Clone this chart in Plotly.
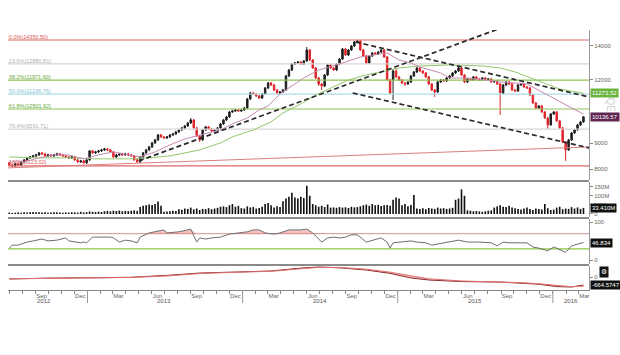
import numpy as np
import pandas as pd
import plotly.graph_objects as go

FONT = "Liberation Sans, Arial, sans-serif"

# ---------------- weekly OHLC (QE index) ----------------
week_start = "2012-07-01"
open_px = [
    8231, 8156, 8120, 8193, 8156, 8268, 8343, 8419, 8457, 8495,
    8533, 8611, 8572, 8495, 8533, 8495, 8533, 8572, 8533, 8495,
    8457, 8419, 8457, 8343, 8268, 8305, 8231, 8343, 8689, 8611,
    8650, 8689, 8728, 8768, 8728, 8650, 8457, 8533, 8572, 8533,
    8572, 8533, 8495, 8343, 8268, 8457, 8611, 8728, 8847, 9009,
    9132, 9340, 9256, 9215, 9256, 9340, 9383, 9468, 9554, 9641,
    9729, 9861, 9996, 9641, 9298, 9132, 9554, 9685, 9598, 9511,
    9554, 9641, 9817, 9996, 10132, 10363, 10410, 10458, 10410, 10458,
    10553, 10991, 11293, 11242, 11141, 11040, 11242, 11551, 11815, 11709,
    11447, 11293, 11344, 11447, 12195, 12530, 12875, 12933, 12992, 12875,
    13051, 13716, 13110, 12644, 12085, 11762, 11656, 12250, 12817, 12644,
    12530, 12875, 13169, 13778, 13409, 13716, 13966, 14221, 14286, 13716,
    13349, 12933, 13349, 13531, 13470, 13592, 13716, 13289, 11977, 11977,
    12474, 12140, 11977, 11815, 11762, 11869, 12195, 12418, 12644, 12474,
    12362, 12140, 11762, 11447, 11344, 11869, 11977, 11923, 12085, 12195,
    12362, 12474, 12644, 12250, 11869, 12031, 11977, 12140, 12031, 11977,
    12085, 11977, 12031, 11869, 11923, 11762, 11293, 11709, 11869, 11762,
    11447, 11395, 11709, 11762, 11603, 11551, 11191, 10794, 10553, 10648,
    10363, 10086, 9773, 10270, 10363, 9951, 9641, 9049, 8728, 9132,
    9425, 9554, 9773, 9906,
]
high_px = [
    8268, 8193, 8231, 8231, 8305, 8381, 8457, 8495, 8533, 8572,
    8650, 8650, 8611, 8572, 8572, 8572, 8611, 8611, 8572, 8533,
    8495, 8495, 8495, 8381, 8343, 8343, 8381, 8728, 8728, 8689,
    8728, 8768, 8807, 8807, 8768, 8689, 8572, 8611, 8611, 8611,
    8611, 8572, 8533, 8381, 8495, 8650, 8768, 8887, 9049, 9173,
    9383, 9383, 9298, 9298, 9383, 9425, 9511, 9598, 9685, 9773,
    9906, 10086, 10041, 9685, 9340, 9598, 9729, 9729, 9641, 9598,
    9685, 9861, 10041, 10178, 10410, 10458, 10505, 10505, 10505, 10600,
    11040, 11344, 11344, 11293, 11191, 11293, 11603, 11869, 11869, 11762,
    11499, 11395, 11499, 12250, 12587, 12933, 12992, 13051, 13051, 13110,
    13903, 13778, 13169, 12702, 12140, 11815, 12306, 12875, 12875, 12702,
    12933, 13229, 13840, 13840, 13778, 14029, 14286, 14350, 14350, 13778,
    13409, 13409, 13592, 13592, 13654, 13778, 13778, 13349, 12031, 12587,
    12644, 12195, 12031, 11869, 11923, 12250, 12474, 12702, 12702, 12530,
    12418, 12195, 11815, 11499, 11923, 12031, 12031, 12140, 12250, 12418,
    12530, 12759, 12702, 12306, 12085, 12085, 12195, 12195, 12085, 12140,
    12140, 12085, 12085, 11977, 11977, 11815, 11762, 11923, 11923, 11815,
    11499, 11762, 11815, 11815, 11656, 11603, 11242, 10843, 10697, 10697,
    10410, 10132, 10317, 10410, 10410, 9996, 9685, 9090, 9173, 9468,
    9598, 9817, 9951, 10178,
]
low_px = [
    8120, 8083, 8083, 8120, 8120, 8231, 8305, 8381, 8419, 8457,
    8495, 8533, 8457, 8457, 8457, 8457, 8495, 8495, 8457, 8419,
    8381, 8381, 8305, 8231, 8231, 8193, 8193, 8305, 8572, 8572,
    8611, 8650, 8689, 8689, 8611, 8419, 8419, 8495, 8495, 8495,
    8495, 8457, 8305, 8231, 8231, 8419, 8572, 8689, 8807, 8968,
    9090, 9215, 9173, 9173, 9215, 9298, 9340, 9425, 9511, 9598,
    9685, 9817, 9598, 9256, 9049, 9090, 9511, 9554, 9468, 9468,
    9511, 9598, 9773, 9951, 10086, 10317, 10363, 10363, 10363, 10410,
    10505, 10941, 11191, 11090, 10991, 10991, 11191, 11499, 11656, 11395,
    11242, 11242, 11293, 11395, 12140, 12474, 12817, 12875, 12817, 12817,
    12992, 13051, 12587, 12031, 11656, 11447, 11603, 12195, 12587, 12474,
    12474, 12817, 13110, 13349, 13349, 13654, 13903, 14157, 13654, 13289,
    12875, 12875, 13289, 13409, 13409, 13531, 13229, 11923, 11242, 10941,
    12085, 11923, 11762, 11656, 11709, 11815, 12140, 12362, 12418, 12306,
    12085, 11709, 11395, 11090, 11293, 11815, 11869, 11869, 12031, 12140,
    12306, 12418, 12195, 11815, 11815, 11923, 11923, 11977, 11923, 11923,
    11923, 11923, 11815, 11815, 11709, 10224, 11242, 11656, 11709, 11395,
    11344, 11344, 11656, 11551, 11499, 11141, 10745, 10505, 10505, 10317,
    10041, 9598, 9729, 10224, 9906, 9598, 9009, 8305, 8689, 9090,
    9383, 9511, 9729, 9861,
]
close_px = [
    8156, 8120, 8193, 8156, 8268, 8343, 8419, 8457, 8495, 8533,
    8611, 8572, 8495, 8533, 8495, 8533, 8572, 8533, 8495, 8457,
    8419, 8457, 8343, 8268, 8305, 8231, 8343, 8689, 8611, 8650,
    8689, 8728, 8768, 8728, 8650, 8457, 8533, 8572, 8533, 8572,
    8533, 8495, 8343, 8268, 8457, 8611, 8728, 8847, 9009, 9132,
    9340, 9256, 9215, 9256, 9340, 9383, 9468, 9554, 9641, 9729,
    9861, 9996, 9641, 9298, 9132, 9554, 9685, 9598, 9511, 9554,
    9641, 9817, 9996, 10132, 10363, 10410, 10458, 10410, 10458, 10553,
    10991, 11293, 11242, 11141, 11040, 11242, 11551, 11815, 11709, 11447,
    11293, 11344, 11447, 12195, 12530, 12875, 12933, 12992, 12875, 13051,
    13716, 13110, 12644, 12085, 11762, 11656, 12250, 12817, 12644, 12530,
    12875, 13169, 13778, 13409, 13716, 13966, 14221, 14286, 13716, 13349,
    12933, 13349, 13531, 13470, 13592, 13716, 13289, 11977, 11293, 12474,
    12140, 11977, 11815, 11762, 11869, 12195, 12418, 12644, 12474, 12362,
    12140, 11762, 11447, 11344, 11869, 11977, 11923, 12085, 12195, 12362,
    12474, 12644, 12250, 11869, 12031, 11977, 12140, 12031, 11977, 12085,
    11977, 12031, 11869, 11923, 11762, 11293, 11709, 11869, 11762, 11447,
    11395, 11709, 11762, 11603, 11551, 11191, 10794, 10553, 10648, 10363,
    10086, 9773, 10270, 10363, 9951, 9641, 9049, 8728, 9132, 9425,
    9554, 9773, 9906, 10136.57,
]
volume_m = [
    8, 6, 7, 9, 7, 10, 8, 9, 11, 9,
    10, 8, 9, 7, 8, 10, 9, 8, 7, 9,
    8, 10, 9, 8, 12, 9, 10, 14, 12, 11,
    13, 11, 15, 17, 14, 18, 16, 19, 15, 17,
    16, 18, 20, 17, 38, 45, 48, 52, 50, 55,
    68, 45, 12, 14, 15, 18, 16, 26, 24, 30,
    28, 35, 25, 30, 22, 28, 27, 32, 26, 30,
    34, 40, 42, 38, 48, 55, 40, 45, 32, 30,
    42, 36, 38, 30, 33, 40, 55, 60, 48, 35,
    42, 38, 70, 85, 95, 117, 90, 85, 95, 88,
    155, 100, 55, 48, 40, 45, 38, 52, 35, 36,
    34, 38, 35, 37, 33, 40, 36, 38, 42, 48,
    52, 45, 55, 48, 50, 44, 48, 50, 45, 78,
    90, 85, 48, 55, 42, 50, 105, 30, 28, 32,
    26, 33, 30, 28, 35, 30, 32, 28, 30, 34,
    78, 85, 135, 100, 20, 18, 15, 16, 14, 12,
    15, 18, 20, 35, 42, 48, 40, 38, 45, 35,
    32, 28, 25, 30, 35, 27, 22, 30, 28, 25,
    55, 32, 22, 24, 35, 40, 26, 30, 28, 38,
    30, 36, 28, 33.41,
]

# ---------------- moving averages (read at sampled weeks) ----------------
ma_short_idx = [0, 5, 10, 15, 20, 25, 30, 35, 40, 44, 49, 54, 59, 64, 71, 75, 80, 84, 87, 91,
                99, 104, 111, 118, 122, 127, 131, 135, 138, 145, 148, 154, 160, 165, 170, 174,
                179, 185, 189, 193]
ma_short = [8268, 8268, 8419, 8533, 8533, 8381, 8533, 8650, 8533, 8457, 8650, 8928, 9173, 9340,
            9554, 9817, 10086, 10458, 10648, 11242, 12085, 12530, 12875, 13289, 13409, 13531,
            13110, 12933, 12702, 12362, 12085, 12085, 11977, 11869, 11815, 11762, 11344,
            10843, 10553, 10270]
ma_long_idx = [0, 10, 20, 30, 40, 47, 54, 64, 71, 75, 82, 88, 92, 98, 103, 109, 114, 120, 126,
               131, 138, 148, 159, 165, 170, 176, 182, 185, 193]
ma_long = [8457, 8419, 8419, 8381, 8381, 8419, 8495, 8728, 9009, 9256, 9554, 9906, 10317, 10745,
           11191, 11603, 11977, 12250, 12474, 12644, 12759, 12817, 12759, 12644, 12418, 12031,
           11656, 11499, 11273.52]

# ---------------- Fibonacci retracement ----------------
fib_pct = ["0.0%", "23.6%", "38.2%", "50.0%", "61.8%", "76.4%", "100%"]
fib_val = [14350.50, 12880.81, 11971.60, 11236.76, 10501.92, 9591.71, 8123.02]
fib_line_color = ["#e06666", "#d6d6d6", "#8fc45a", "#a9dbe6", "#8fc45a", "#d6d6d6", "#e06666"]
fib_text_color = ["#d9534f", "#b0b0b0", "#6aa83a", "#7fc3d3", "#6aa83a", "#b0b0b0", "#d9534f"]

# ---------------- trend lines ----------------
up_trend_dates = ["2013-05-02", "2015-09-14"]
up_trend_vals = [8305, 15289]
chan_upper_dates = ["2014-09-24", "2016-03-26"]
chan_upper_vals = [14221, 11090]
chan_lower_dates = ["2014-09-17", "2016-03-26"]
chan_lower_vals = [11293, 8807]
long_trend_dates = ["2012-06-28", "2016-03-26"]
long_trend_vals = [8047, 8847]

# ---------------- RSI ----------------
rsi_idx = [0, 1, 3, 6, 8, 11, 13, 16, 19, 20, 24, 25, 26, 28, 30, 34, 35, 37, 39, 41, 43, 44, 47,
           49, 52, 53, 57, 61, 63, 64, 66, 68, 71, 74, 77, 80, 82, 84, 86, 89, 91, 94, 98, 100,
           102, 105, 107, 109, 111, 113, 115, 117, 120, 122, 125, 127, 128, 129, 131, 135, 137,
           140, 142, 146, 149, 151, 154, 156, 158, 162, 164, 166, 168, 172, 174, 176, 178, 181,
           183, 184, 187, 189, 191, 193]
rsi_val = [32, 40, 40, 48, 51, 56, 51, 53, 59, 51, 46, 48, 46, 61, 61, 61, 59, 48, 53, 51, 46, 61,
           72, 75, 80, 72, 75, 82, 48, 59, 56, 59, 61, 69, 72, 75, 80, 80, 72, 69, 72, 80, 80, 82,
           72, 48, 59, 61, 59, 61, 67, 67, 48, 53, 59, 48, 32, 46, 48, 51, 48, 46, 40, 46, 51, 53,
           48, 48, 48, 46, 38, 48, 46, 46, 46, 35, 32, 25, 35, 32, 21, 38, 43, 46.834]

# ---------------- MACD ----------------
macd_idx = [0, 13, 30, 41, 54, 64, 77, 88, 98, 104, 111, 120, 128, 135, 141, 152, 165, 172, 178,
            184, 189, 193]
macd_val = [-170, -90, -60, -20, 150, 330, 420, 500, 740, 830, 760, 580, 300, -80, -250, -380,
            -420, -500, -600, -800, -830, -664.5747]
signal_val = [-150, -110, -70, -40, 100, 290, 400, 470, 680, 800, 790, 650, 400, 80, -150, -330,
              -400, -470, -560, -720, -810, -760]

# ---------------- axis labels ----------------
month_tick_dates = ["2012-09-15", "2012-12-15", "2013-03-15", "2013-06-15", "2013-09-15",
                    "2013-12-15", "2014-03-15", "2014-06-15", "2014-09-15", "2014-12-15",
                    "2015-03-15", "2015-06-15", "2015-09-15", "2015-12-15", "2016-03-15"]
month_tick_text = ["Sep", "Dec", "Mar", "Jun", "Sep", "Dec", "Mar", "Jun", "Sep", "Dec",
                   "Mar", "Jun", "Sep", "Dec", "Mar"]
year_labels = ["2012", "2013", "2014", "2015", "2016"]
year_label_dates = ["2012-09-20", "2013-07-01", "2014-07-01", "2015-07-01", "2016-02-12"]
year_bounds = ["2013-01-01", "2014-01-01", "2015-01-01", "2016-01-01"]

X_RANGE = ["2012-06-28", "2016-03-26"]

dates = pd.date_range(week_start, periods=len(close_px), freq="7D")
month_starts = pd.date_range("2012-07-01", "2016-03-01", freq="MS")

fig = go.Figure()

# Fibonacci lines and labels
for v, c in zip(fib_val, fib_line_color):
    fig.add_trace(go.Scatter(x=X_RANGE, y=[v, v], mode="lines", line=dict(color=c, width=1.2),
                             xaxis="x", yaxis="y", hoverinfo="skip"))
fig.add_trace(go.Scatter(
    x=["2012-06-30"] * len(fib_val), y=fib_val, mode="text",
    text=[f"{p}({v:.2f})" for p, v in zip(fib_pct, fib_val)],
    textposition="top right", textfont=dict(size=5.5, color=fib_text_color, family=FONT),
    xaxis="x", yaxis="y", hoverinfo="skip"))

# long trend line
fig.add_trace(go.Scatter(x=long_trend_dates, y=long_trend_vals, mode="lines",
                         line=dict(color="#d98080", width=1), xaxis="x", yaxis="y"))
# moving averages
fig.add_trace(go.Scatter(x=dates[ma_long_idx], y=ma_long, mode="lines",
                         line=dict(color="#93c96b", width=1), xaxis="x", yaxis="y"))
fig.add_trace(go.Scatter(x=dates[ma_short_idx], y=ma_short, mode="lines",
                         line=dict(color="#c48ab3", width=1), xaxis="x", yaxis="y"))

# candles
fig.add_trace(go.Candlestick(
    x=dates, open=open_px, high=high_px, low=low_px, close=close_px,
    increasing=dict(line=dict(color="#1e1e1e", width=1), fillcolor="#1e1e1e"),
    decreasing=dict(line=dict(color="#e0262b", width=1), fillcolor="#e0262b"),
    whiskerwidth=0, xaxis="x", yaxis="y"))

# dashed trend lines
for dx, dy in [(up_trend_dates, up_trend_vals), (chan_upper_dates, chan_upper_vals),
               (chan_lower_dates, chan_lower_vals)]:
    fig.add_trace(go.Scatter(x=dx, y=dy, mode="lines",
                             line=dict(color="#2b2b2b", width=1.7, dash="5px,3px"),
                             xaxis="x", yaxis="y"))

# volume
fig.add_trace(go.Bar(x=dates, y=[v * 1e6 for v in volume_m],
                     marker=dict(color="#111111", line=dict(width=0)),
                     width=0.55 * 7 * 24 * 3600 * 1000, xaxis="x2", yaxis="y2"))

# RSI
rsi_dates = dates[rsi_idx]
fig.add_trace(go.Scatter(x=X_RANGE, y=[70, 70], mode="lines", line=dict(color="#e2a4a4", width=1.2),
                         xaxis="x3", yaxis="y3"))
fig.add_trace(go.Scatter(x=X_RANGE, y=[30, 30], mode="lines", line=dict(color="#8cc63f", width=1.2),
                         xaxis="x3", yaxis="y3"))
fig.add_trace(go.Scatter(x=rsi_dates, y=[70] * len(rsi_val), mode="lines", line=dict(width=0),
                         xaxis="x3", yaxis="y3", hoverinfo="skip"))
fig.add_trace(go.Scatter(x=rsi_dates, y=np.maximum(np.array(rsi_val), 70), mode="lines",
                         line=dict(width=0), fill="tonexty", fillcolor="rgba(232,120,120,0.45)",
                         xaxis="x3", yaxis="y3", hoverinfo="skip"))
fig.add_trace(go.Scatter(x=rsi_dates, y=rsi_val, mode="lines", line=dict(color="#6e6e6e", width=1),
                         xaxis="x3", yaxis="y3"))

# MACD
macd_dates = dates[macd_idx]
fig.add_trace(go.Scatter(x=macd_dates, y=macd_val, mode="lines", line=dict(color="#8e2a2a", width=1),
                         xaxis="x4", yaxis="y4"))
fig.add_trace(go.Scatter(x=macd_dates, y=signal_val, mode="lines", line=dict(color="#e07070", width=1),
                         fill="tonexty", fillcolor="rgba(225,110,110,0.45)", xaxis="x4", yaxis="y4"))

tickfont = dict(size=6, color="#666666", family=FONT)
xcommon = dict(type="date", range=X_RANGE, showgrid=False, zeroline=False, showticklabels=False,
               showline=False, ticks="")
ycommon = dict(side="right", showgrid=False, zeroline=False, showline=True, linecolor="#9a9a9a",
               linewidth=1, ticks="outside", ticklen=3, tickcolor="#888888", tickfont=tickfont)

fig.update_layout(
    width=620, height=355, autosize=False,
    margin=dict(l=8, r=27, t=30, b=65),
    paper_bgcolor="white", plot_bgcolor="white",
    showlegend=False, hovermode=False,
    font=dict(family=FONT),
    xaxis=dict(xcommon, anchor="y"),
    xaxis2=dict(xcommon, anchor="y2", matches="x"),
    xaxis3=dict(xcommon, anchor="y3", matches="x"),
    xaxis4=dict(xcommon, anchor="y4", matches="x", showticklabels=True, showline=True,
                linecolor="#888888", linewidth=1, tickmode="array", tickvals=month_tick_dates,
                ticktext=month_tick_text, tickfont=tickfont,
                minor=dict(tickmode="array", tickvals=list(month_starts), ticks="outside",
                           ticklen=3, tickcolor="#888888")),
    yaxis=dict(ycommon, domain=[0.4231, 1.0], type="log", range=[3.88181, 4.17651],
               tickmode="array", tickvals=[8000, 9000, 12000, 14000],
               ticktext=["8000", "9000", "12000", "14000"]),
    yaxis2=dict(ycommon, domain=[0.2808, 0.4154], range=[-16.5e6, 175.8e6], tickmode="array",
                tickvals=[0, 50e6, 100e6, 150e6], ticktext=["0", "50M", "100M", "150M"]),
    yaxis3=dict(ycommon, domain=[0.1, 0.2731], range=[-9.7, 108.7], tickmode="array",
                tickvals=[0, 100], ticktext=["0", "100"]),
    yaxis4=dict(ycommon, domain=[0.0, 0.0923], range=[-1079, 913], tickmode="array",
                tickvals=[0], ticktext=["0"]),
    xaxis_rangeslider_visible=False,
)

shapes = []
for yp in [0.4192, 0.2769, 0.0962]:
    shapes.append(dict(type="line", xref="paper", yref="paper", x0=0, x1=1, y0=yp, y1=yp,
                       line=dict(color="#8a8a8a", width=2)))
for d in year_bounds:
    shapes.append(dict(type="line", xref="x4", yref="paper", x0=d, x1=d, y0=0, y1=-0.05,
                       line=dict(color="#999999", width=1)))
fig.update_layout(shapes=shapes)

annotations = []
for t, d in zip(year_labels, year_label_dates):
    annotations.append(dict(x=d, xref="x4", y=-0.042, yref="paper", text=t, showarrow=False,
                            font=dict(size=6, color="#555555", family=FONT), yanchor="middle"))


def value_label(text, yref, y, bg, fg="white"):
    return dict(x=1.0, xref="paper", xanchor="left", xshift=1, y=y, yref=yref, text=text,
                showarrow=False, bgcolor=bg, borderpad=1,
                font=dict(size=6, color=fg, family=FONT), yanchor="middle")


annotations.append(value_label("11273.52", "y", np.log10(ma_long[-1]), "#6ab43e"))
annotations.append(value_label("10136.57", "y", np.log10(close_px[-1]), "#5e2650"))
annotations.append(value_label(f"{volume_m[-1]:.3f}M", "y2", volume_m[-1] * 1e6, "#111111"))
annotations.append(value_label(f"{rsi_val[-1]:.3f}", "y3", rsi_val[-1], "#111111"))
annotations.append(value_label(f"{macd_val[-1]:.4f}", "y4", macd_val[-1], "#111111"))
annotations.append(dict(x=1.0, xref="paper", xanchor="left", xshift=10, y=450, yref="y4",
                        text="⚙", showarrow=False, bgcolor="#111111", borderpad=1,
                        font=dict(size=7, color="white", family="DejaVu Sans")))
annotations.append(dict(x=1.0, xref="paper", xanchor="left", xshift=14, y=np.log10(10700),
                        yref="y", text="QE", textangle=90, showarrow=False,
                        font=dict(size=10, color="#d0d0d0", family=FONT)))
fig.update_layout(annotations=annotations)

fig.write_html(
    "out.html",
    config={"displayModeBar": False, "staticPlot": True},
    post_script="document.body.style.margin='0';document.body.style.padding='0';"
                "document.body.style.overflow='hidden';"
                "document.documentElement.style.overflow='hidden';",
)
